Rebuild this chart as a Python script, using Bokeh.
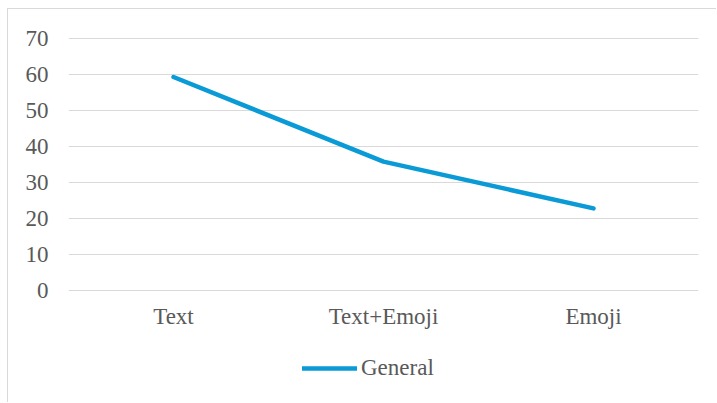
from bokeh.plotting import figure
from bokeh.models import Range1d, FactorRange, Legend, LegendItem, FixedTicker, Spacer
from bokeh.layouts import column, row
from bokeh.embed import file_html
from bokeh.resources import INLINE

categories = ["Text", "Text+Emoji", "Emoji"]
general = [59.3, 35.8, 22.8]
y_ticks = [0, 10, 20, 30, 40, 50, 60, 70]

FONT = "Liberation Serif"
GRAY = "#595959"
GRID = "#d9d9d9"
BLUE = "#0a9ad6"

# frame spans from just above 70 down to below the legend; the x axis sits at y = 0
p = figure(width=709, height=394, output_backend="svg", toolbar_location=None,
           x_range=FactorRange(*categories, range_padding=0),
           y_range=Range1d(-110 / 3.6, 70 + 1 / 3.6),
           min_border_left=60, min_border_right=19, min_border_top=28, min_border_bottom=3)
p.styles = {"border-left": f"1px solid {GRID}", "border-top": f"1px solid {GRID}"}
p.outline_line_color = None
p.background_fill_color = "white"
p.border_fill_color = "white"

r = p.line(categories, general, line_color=BLUE, line_width=4.5, line_cap="round", line_join="round")

p.xgrid.grid_line_color = None
p.ygrid.grid_line_color = GRID
p.ygrid.grid_line_width = 1
p.ygrid.ticker = FixedTicker(ticks=y_ticks)
p.yaxis.ticker = FixedTicker(ticks=y_ticks)
p.xaxis.fixed_location = 0

for ax in (p.xaxis[0], p.yaxis[0]):
    ax.axis_line_color = None
    ax.major_tick_line_color = None
    ax.minor_tick_line_color = None
    ax.major_tick_out = 0
    ax.major_tick_in = 0
    ax.major_label_text_font = FONT
    ax.major_label_text_font_size = "23px"
    ax.major_label_text_color = GRAY
p.yaxis.major_label_standoff = 20
p.xaxis.major_label_standoff = 13

legend = Legend(items=[LegendItem(label="General", renderers=[r])],
                location=(234, 19), orientation="horizontal",
                padding=0, margin=0, spacing=0, label_standoff=4,
                glyph_width=55, glyph_height=24, label_height=24,
                label_text_font=FONT, label_text_font_size="23px", label_text_color=GRAY,
                border_line_color=None, background_fill_alpha=0)
p.add_layout(legend, "center")

layout = column(Spacer(height=8), row(Spacer(width=7), p))
open("out.html", "w").write(file_html(layout, INLINE))
